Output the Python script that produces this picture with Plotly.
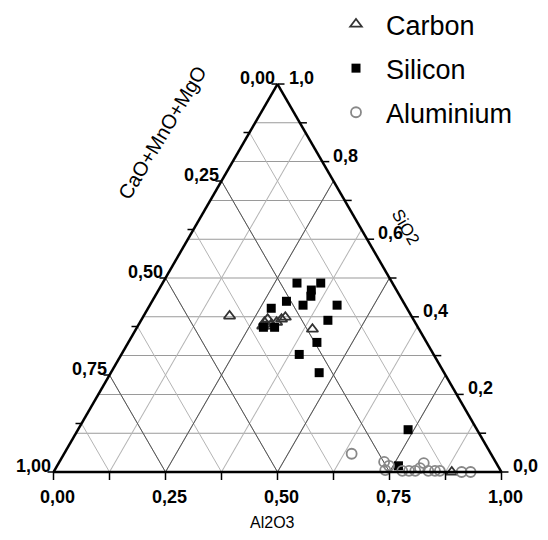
import plotly.graph_objects as go

# ---- slag compositions (mass fractions) ----
# Carbon-deoxidised heats
carbon_sio2 = [0.402, 0.376, 0.376, 0.386, 0.394, 0.381, 0.386, 0.394, 0.399, 0.368, 0.000]
carbon_cao = [0.406, 0.345, 0.336, 0.336, 0.325, 0.323, 0.309, 0.294, 0.283, 0.238, 0.111]
carbon_al2o3 = [0.192, 0.279, 0.288, 0.278, 0.281, 0.296, 0.305, 0.312, 0.318, 0.394, 0.889]

# Silicon-deoxidised heats
silicon_sio2 = [0.487, 0.487, 0.469, 0.453, 0.440, 0.430, 0.430, 0.422, 0.391, 0.334,
                0.303, 0.256, 0.109, 0.016, 0.373, 0.373]
silicon_cao = [0.213, 0.160, 0.190, 0.199, 0.260, 0.228, 0.152, 0.303, 0.192, 0.245,
               0.300, 0.279, 0.154, 0.222, 0.345, 0.320]
silicon_al2o3 = [0.300, 0.353, 0.341, 0.348, 0.300, 0.342, 0.418, 0.275, 0.417, 0.421,
                 0.397, 0.465, 0.737, 0.762, 0.282, 0.307]

# Aluminium-deoxidised heats
alu_sio2 = [0.047, 0.026, 0.016, 0.005, 0.003, 0.003, 0.003, 0.010, 0.023, 0.003,
            0.003, 0.003, 0.000, 0.000]
alu_cao = [0.311, 0.249, 0.243, 0.257, 0.220, 0.205, 0.191, 0.177, 0.162, 0.162,
           0.147, 0.136, 0.089, 0.069]
alu_al2o3 = [0.642, 0.725, 0.741, 0.738, 0.777, 0.792, 0.806, 0.813, 0.815, 0.835,
             0.850, 0.861, 0.911, 0.931]

# ---- axis tick values and labels ----
left_ticks = [0.0, 0.25, 0.50, 0.75, 1.0]            # CaO+MnO+MgO
left_labels = ["0,00", "0,25", "0,50", "0,75", "1,00"]
bottom_ticks = [0.0, 0.25, 0.50, 0.75, 1.0]          # Al2O3
bottom_labels = ["0,00", "0,25", "0,50", "0,75", "1,00"]
right_ticks = [0.0, 0.2, 0.4, 0.6, 0.8, 1.0]         # SiO2
right_labels = ["0,0", "0,2", "0,4", "0,6", "0,8", "1,0"]
major_diag = [0.25, 0.50, 0.75]
minor_step_diag = 0.125
minor_step_sio2 = 0.1

FONT = "Liberation Sans, Arial, sans-serif"
FIG_W, FIG_H = 548, 540
# ternary triangle box in pixels (equilateral)
X0, TRI_W = 53.5, 448.0
TRI_H = TRI_W * 3 ** 0.5 / 2
YB = 472.0


def px(a, b, c):
    """Pixel position of a composition (a=SiO2, b=CaO.., c=Al2O3)."""
    s = a + b + c
    a, c = a / s, c / s
    return X0 + TRI_W * (c + a / 2), YB - TRI_H * a


def paper(x, y):
    return x / FIG_W, 1 - y / FIG_H


fig = go.Figure()

# darker major grid lines for the two diagonal families
for v in major_diag:
    fig.add_trace(go.Scatterternary(
        a=[1 - v, 0], b=[v, v], c=[0, 1 - v], mode="lines",
        line=dict(color="#555555", width=1), hoverinfo="skip", showlegend=False))
    fig.add_trace(go.Scatterternary(
        a=[0, 1 - v], b=[1 - v, 0], c=[v, v], mode="lines",
        line=dict(color="#555555", width=1), hoverinfo="skip", showlegend=False))

fig.add_trace(go.Scatterternary(
    name="Carbon", legendgroup="c", a=carbon_sio2, b=carbon_cao, c=carbon_al2o3,
    mode="markers", cliponaxis=False,
    marker=dict(symbol="triangle-up-open", size=10, color="#333333", line=dict(width=1.8))))
fig.add_trace(go.Scatterternary(
    name="Silicon", legendgroup="s", a=silicon_sio2, b=silicon_cao, c=silicon_al2o3,
    mode="markers", cliponaxis=False,
    marker=dict(symbol="square", size=9, color="black")))
fig.add_trace(go.Scatterternary(
    name="Aluminium", legendgroup="a", a=alu_sio2, b=alu_cao, c=alu_al2o3,
    mode="markers", cliponaxis=False,
    marker=dict(symbol="circle-open", size=10, color="#888888", line=dict(width=1.8))))

axis_common = dict(title=dict(text=""), showticklabels=False, ticks="", tick0=0,
                   showline=True, linecolor="black", linewidth=2.5, showgrid=True,
                   gridwidth=1)

dx0, dy0 = paper(X0, YB)
dx1, dy1 = paper(X0 + TRI_W, YB - TRI_H)

annotations = []
shapes = []
tick_font = dict(family=FONT, size=18, color="black", weight="bold")


def tick(x, y, dx, dy):
    xa, ya = paper(x, y)
    xb, yb = paper(x + dx, y + dy)
    shapes.append(dict(type="line", xref="paper", yref="paper", x0=xa, y0=ya, x1=xb, y1=yb,
                       line=dict(color="black", width=1.5)))


k = 0
while k * minor_step_diag <= 1.0001:
    v = k * minor_step_diag
    tick(*px(1 - v, v, 0), -6, 0)      # left edge: CaO+MnO+MgO
    tick(*px(0, 1 - v, v), 0, 8)       # bottom edge: Al2O3
    k += 1
k = 0
while k * minor_step_sio2 <= 1.0001:
    v = k * minor_step_sio2
    tick(*px(v, 0, 1 - v), 7, 0)       # right edge: SiO2
    k += 1

for v, t in zip(left_ticks, left_labels):
    x, y = px(1 - v, v, 0)
    xp, yp = paper(x - 1, y - 6)
    annotations.append(dict(x=xp, y=yp, xref="paper", yref="paper", text=t, showarrow=False,
                            xanchor="right", yanchor="middle", font=tick_font))
for v, t in zip(bottom_ticks, bottom_labels):
    x, y = px(0, 1 - v, v)
    xp, yp = paper(x + 4, y + 25)
    annotations.append(dict(x=xp, y=yp, xref="paper", yref="paper", text=t, showarrow=False,
                            xanchor="center", yanchor="middle", font=tick_font))
for v, t in zip(right_ticks, right_labels):
    x, y = px(v, 0, 1 - v)
    xp, yp = paper(x + 9, y - 6)
    annotations.append(dict(x=xp, y=yp, xref="paper", yref="paper", text=t, showarrow=False,
                            xanchor="left", yanchor="middle", font=tick_font))

for text, (x, y), ang, size in [("CaO+MnO+MgO", (162, 133), -59, 20),
                                ("SiO2", (406, 227), 60, 17),
                                ("Al2O3", (272, 522), 0, 16)]:
    xp, yp = paper(x, y)
    annotations.append(dict(x=xp, y=yp, xref="paper", yref="paper", text=text,
                            showarrow=False, textangle=ang, xanchor="center",
                            yanchor="middle",
                            font=dict(family=FONT, size=size, color="black")))

fig.update_layout(
    width=FIG_W, height=FIG_H,
    margin=dict(l=0, r=0, t=0, b=0),
    paper_bgcolor="white",
    font=dict(family=FONT, color="black"),
    ternary=dict(
        domain=dict(x=[dx0, dx1], y=[dy0, dy1]),
        sum=1, bgcolor="white",
        aaxis=dict(axis_common, dtick=minor_step_sio2, gridcolor="#9a9a9a"),
        baxis=dict(axis_common, dtick=minor_step_diag, gridcolor="#b4b4b4"),
        caxis=dict(axis_common, dtick=minor_step_diag, gridcolor="#b4b4b4"),
    ),
    legend=dict(x=326 / FIG_W, y=1.0, xanchor="left", yanchor="top",
                font=dict(family=FONT, size=27, color="black"),
                itemwidth=50, tracegroupgap=6, bgcolor="rgba(0,0,0,0)"),
    annotations=annotations,
    shapes=shapes,
)

fig.write_html("out.html")
